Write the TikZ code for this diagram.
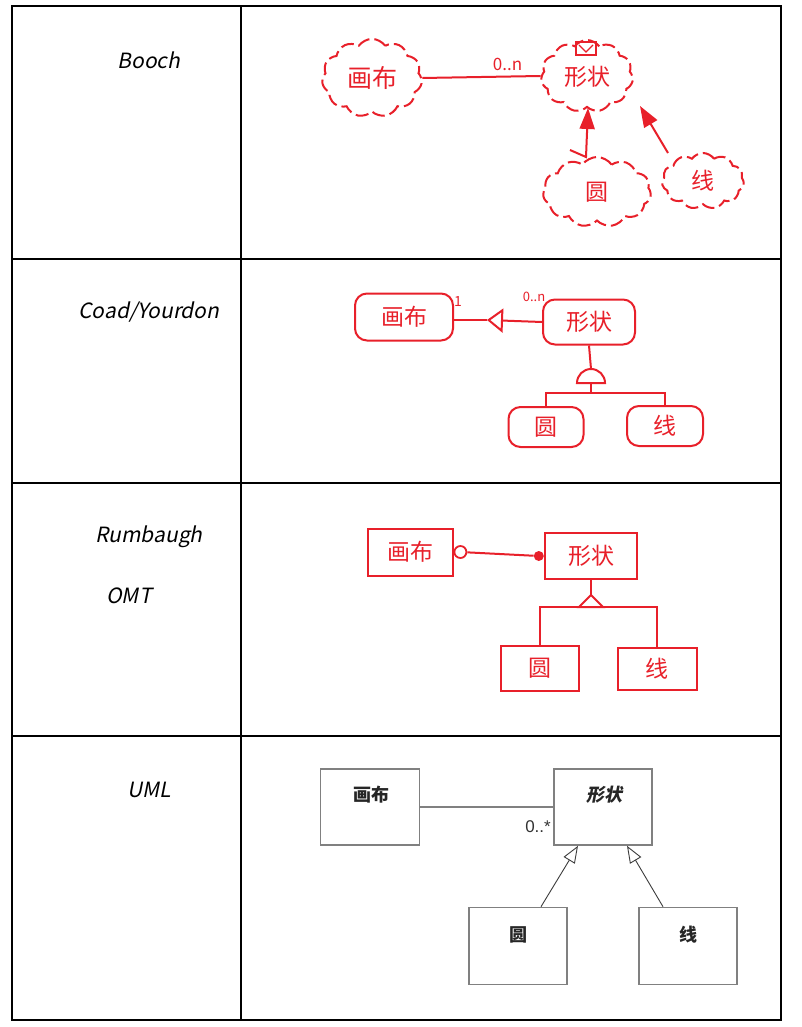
\documentclass[tikz,border=0pt]{standalone}
\usepackage{fontspec}
\newfontfamily\cjk{Noto Sans CJK SC}
\newfontfamily\labfont[FakeSlant=0.2]{Noto Sans CJK SC}
\newfontfamily\cjkslant[FakeSlant=0.2]{Noto Sans CJK SC}
\usetikzlibrary{shapes.symbols,shapes.geometric,decorations.pathmorphing,arrows.meta}
\definecolor{sk}{RGB}{232,32,42}
\definecolor{ug}{RGB}{128,128,128}
\definecolor{ul}{RGB}{60,60,60}
\tikzset{
  rowlabel/.style={font=\labfont\fontsize{21}{24}\selectfont, text=black},
  sktext/.style={text=sk, font=\cjk\fontsize{23}{25}\selectfont},
  smalltext/.style={text=sk, font=\cjk\fontsize{13}{14}\selectfont},
  bcloud/.style={cloud, cloud puffs=11, cloud puff arc=110, draw=sk, line width=2pt, dash pattern=on 13pt off 5pt, sktext, inner sep=0pt},
  cbox/.style={rectangle, rounded corners=12pt, draw=sk, line width=2pt, sktext},
  rbox/.style={rectangle, draw=sk, line width=2pt, sktext},
  skline/.style={draw=sk, line width=2pt},
  ubox/.style={rectangle, draw=ug, line width=1.6pt, fill=white},
  utext/.style={font=\cjk\bfseries\fontsize{18}{20}\selectfont, text=black!85},
  uline/.style={draw=ul, line width=0.9pt},
}
\begin{document}
\begin{tikzpicture}[x=1pt,y=-1pt]
\useasboundingbox (0,0) rectangle (801,1027);
\fill[white] (0,0) rectangle (801,1027);
% table
\draw[line width=2.4pt] (12,6) rectangle (781,1020);
\draw[line width=2.4pt] (241,6) -- (241,1020);
\foreach \yy in {259,483,736} \draw[line width=2.4pt] (12,\yy) -- (781,\yy);
% row labels
\node[rowlabel] (lbooch) at (149,60) {Booch};
\node[rowlabel] (lcoad) at (149,312) {Coad/Yourdon};
\node[rowlabel] (lrum) at (149,537) {Rumbaugh};
\node[rowlabel] (lomt) at (129,596) {OMT};
\node[rowlabel] (luml) at (149,790) {UML};

% ---------- Booch ----------
\node[bcloud, minimum width=100pt, minimum height=60pt, font=\cjk\fontsize{25}{27}\selectfont] (bcanvas) at (372,78) {画布};
\node[bcloud, minimum width=92pt, minimum height=72pt, text depth=-10pt] (bshape) at (587,76) {形状};
\node[bcloud, minimum width=108pt, minimum height=70pt] (bcircle) at (597,192) {圆};
\node[bcloud, minimum width=82pt, minimum height=56pt] (bline) at (703,181) {线};
\draw[skline] (576,42) rectangle (596,55);
\draw[skline, line width=1.2pt] (579,45) -- (586,52) -- (593,45);
\draw[skline] (bcanvas.east) -- node[smalltext, font=\cjk\fontsize{17}{17}\selectfont, above=2pt, pos=0.72] {0..n} (bshape.west);
\draw[skline, -{Triangle[length=21pt,width=15pt]}] (570,150) -- (586,157) -- (588,108);
\draw[skline, -{Triangle[length=21pt,width=15pt]}] (668,153) -- (640,106);

% ---------- Coad/Yourdon ----------
\node[cbox, minimum width=98pt, minimum height=47pt] (ccanvas) at (404,317) {画布};
\node[cbox, minimum width=92pt, minimum height=45pt] (cshape) at (589,322) {形状};
\coordinate (ctip) at (487,320);
\draw[skline, -{Triangle[open,length=16pt,width=24pt,line width=2pt]}] (cshape.west) -- (ctip);
\draw[skline] (ctip) -- (ccanvas.east |- ctip);
\node[smalltext, font=\cjk\fontsize{14}{14}\selectfont] (cone) at (458,302) {1};
\node[smalltext] (cmult) at (534,297) {0..n};
\node[cbox, minimum width=75pt, minimum height=40pt] (ccircle) at (546,427) {圆};
\node[cbox, minimum width=76pt, minimum height=40pt] (cline) at (665,426) {线};
\coordinate (chalf) at (591,383);
\coordinate (cbar) at (591,393);
\draw[skline] (cshape.south) -- (591,369);
\draw[skline, fill=white] (577,383) arc[start angle=180, end angle=360, radius=14] -- cycle;
\draw[skline] (chalf) -- (cbar);
\draw[skline] (ccircle.north) |- (cbar) -| (cline.north);

% ---------- Rumbaugh OMT ----------
\node[rbox, minimum width=85pt, minimum height=47pt] (rcanvas) at (410,552) {画布};
\node[rbox, minimum width=92pt, minimum height=46pt] (rshape) at (591,556) {形状};
\node[circle, draw=sk, line width=1.8pt, minimum size=12pt, inner sep=0pt, anchor=west] (rhollow) at (rcanvas.east) {};
\node[circle, fill=sk, minimum size=10pt, inner sep=0pt, anchor=east] (rdot) at (rshape.west) {};
\draw[skline] (rhollow) -- (rdot);
\node[rbox, minimum width=78pt, minimum height=45pt] (rcircle) at (540,668) {圆};
\node[rbox, minimum width=79pt, minimum height=42pt] (rline) at (657,669) {线};
\coordinate (rapex) at (591,595);
\coordinate (rbar) at (591,607);
\draw[skline] (rshape.south) -- (rapex);
\draw[skline, fill=white] (rapex) -- (579,607) -- (603,607) -- cycle;
\draw[skline] (rcircle.north) |- (rbar) -| (rline.north);

% ---------- UML ----------
\node[ubox, minimum width=99pt, minimum height=76pt] (ucanvas) at (370,807) {};
\node[ubox, minimum width=98pt, minimum height=76pt] (ushape) at (603,807) {};
\node[ubox, minimum width=98pt, minimum height=77pt] (ucircle) at (518,946) {};
\node[ubox, minimum width=98pt, minimum height=77pt] (uline) at (688,946) {};
\node[utext] (ucanvast) at (371,795) {画布};
\node[utext, font=\cjkslant\bfseries\fontsize{18}{20}\selectfont] (ushapet) at (604,795) {形状};
\node[utext] (ucirclet) at (518,935) {圆};
\node[utext] (ulinet) at (688,935) {线};
\draw[draw=ug, line width=1.4pt] (ucanvas.east) -- (ushape.west);
\node[font=\fontspec{Liberation Sans}\fontsize{17}{18}\selectfont, text=black!80, anchor=east, inner sep=0pt] (umult) at (551,827) {0..*};
\draw[uline, -{Triangle[open,length=17pt,width=13pt,line width=0.9pt]}] ([xshift=23pt]ucircle.north) -- ([xshift=-25pt]ushape.south);
\draw[uline, -{Triangle[open,length=17pt,width=13pt,line width=0.9pt]}] ([xshift=-25pt]uline.north) -- ([xshift=24pt]ushape.south);
\end{tikzpicture}
\end{document}
